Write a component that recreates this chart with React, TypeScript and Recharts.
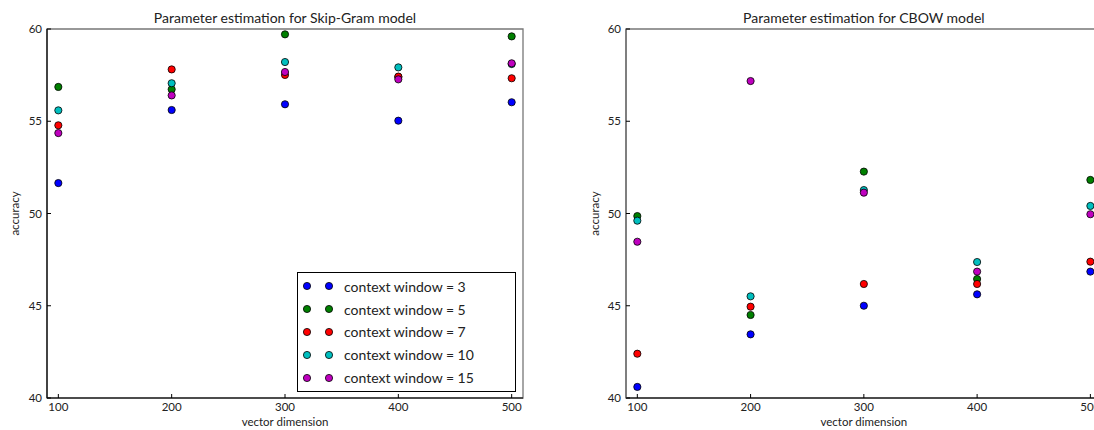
import React from 'react';
import { ScatterChart, Scatter, XAxis, YAxis, ReferenceArea, Legend } from 'recharts';

const dimensions = [100, 200, 300, 400, 500];
const xTicks = [100, 200, 300, 400, 500];
const yTicks = [40, 45, 50, 55, 60];
const windowLabels = [
  'context window = 3',
  'context window = 5',
  'context window = 7',
  'context window = 10',
  'context window = 15',
];
const seriesColors = ['#0000ff', '#008000', '#ff0000', '#00bfbf', '#bf00bf'];

// Skip-Gram accuracies (per context window, over vector dimensions)
const skipGram3 = [51.65, 55.61, 55.92, 55.03, 56.03];
const skipGram5 = [56.86, 56.73, 59.71, 57.4, 59.6];
const skipGram7 = [54.78, 57.81, 57.51, 57.42, 57.33];
const skipGram10 = [55.59, 57.06, 58.21, 57.92, 58.1];
const skipGram15 = [54.36, 56.4, 57.67, 57.27, 58.14];

// CBOW accuracies
const cbow3 = [40.6, 43.45, 45.0, 45.62, 46.85];
const cbow5 = [49.86, 44.5, 52.27, 46.45, 51.82];
const cbow7 = [42.4, 44.95, 46.18, 46.18, 47.39];
const cbow10 = [49.61, 45.51, 51.27, 47.37, 50.41];
const cbow15 = [48.47, 57.18, 51.13, 46.85, 49.96];

const skipGramSeries = [skipGram3, skipGram5, skipGram7, skipGram10, skipGram15];
const cbowSeries = [cbow3, cbow5, cbow7, cbow10, cbow15];

const FONT = 'Lato, "DejaVu Sans", sans-serif';
const TICK_MARGIN_X = 4;
const TICK_MARGIN_Y = 5;

const toPoints = (values: number[]) => dimensions.map((d, i) => ({ x: d, y: values[i] }));

const XTick = (props: any) => {
  const { x, y, payload } = props;
  const axisY = y - TICK_MARGIN_X;
  return (
    <g>
      <line x1={x} x2={x} y1={axisY} y2={axisY - 4} stroke="#000" strokeWidth={1} />
      <text x={x} y={y} dy="0.75em" textAnchor="middle" fontSize={11.5} fill="#222" fontFamily={FONT}>
        {payload.value}
      </text>
    </g>
  );
};

const YTick = (props: any) => {
  const { x, y, payload } = props;
  const axisX = x + TICK_MARGIN_Y;
  return (
    <g>
      <line x1={axisX} x2={axisX + 4} y1={y} y2={y} stroke="#000" strokeWidth={1} />
      <text x={x} y={y} dy="0.36em" textAnchor="end" fontSize={11.5} fill="#222" fontFamily={FONT}>
        {payload.value}
      </text>
    </g>
  );
};

const Dot = (props: any) => {
  const { cx, cy, fill } = props;
  if (cx == null || cy == null) return null;
  return <circle cx={cx} cy={cy} r={3.6} fill={fill} stroke="#000" strokeWidth={0.8} />;
};

const LegendBox = (props: any) => {
  const payload = [...(props.payload || [])].sort(
    (a: any, b: any) => windowLabels.indexOf(a.value) - windowLabels.indexOf(b.value)
  );
  return (
    <div
      style={{
        width: 217,
        height: 116,
        border: '1px solid #000',
        background: '#fff',
        boxSizing: 'content-box',
        paddingTop: 2,
      }}
    >
      {payload.map((entry: any, i: number) => (
        <div
          key={i}
          style={{
            height: 22.8,
            display: 'flex',
            alignItems: 'center',
            fontFamily: FONT,
            fontSize: 14,
            color: '#222',
          }}
        >
          <svg width={43} height={12} style={{ marginLeft: 3 }}>
            <circle cx={6} cy={6} r={3.6} fill={entry.color} stroke="#000" strokeWidth={0.8} />
            <circle cx={28} cy={6} r={3.6} fill={entry.color} stroke="#000" strokeWidth={0.8} />
          </svg>
          <span>{entry.value}</span>
        </div>
      ))}
    </div>
  );
};

type PanelProps = {
  title: string;
  series: number[][];
  width: number;
  yAxisWidth: number;
  marginRight: number;
  yLabelOffset: number;
  leftStroke: string;
  showLegend: boolean;
};

const Panel = ({ title, series, width, yAxisWidth, marginRight, yLabelOffset, leftStroke, showLegend }: PanelProps) => (
  <ScatterChart width={width} height={430} margin={{ top: 29, right: marginRight, bottom: 0, left: 0 }}>
    <ReferenceArea
      x1={90}
      x2={510}
      y1={40}
      y2={60}
      fill="none"
      fillOpacity={0}
      stroke="#777"
      strokeWidth={1.3}
      label={{ value: title, position: 'top', offset: 6, fontSize: 14, fill: '#222', fontFamily: FONT }}
    />
    <XAxis
      type="number"
      dataKey="x"
      domain={[90, 510]}
      ticks={xTicks}
      allowDataOverflow
      height={32}
      tickSize={0}
      tickMargin={TICK_MARGIN_X}
      tick={<XTick />}
      tickLine={false}
      axisLine={{ stroke: '#000', strokeWidth: 1.2 }}
      label={{ value: 'vector dimension', position: 'insideBottom', offset: 4, fontSize: 11.5, fill: '#222', fontFamily: FONT }}
    />
    <YAxis
      type="number"
      dataKey="y"
      domain={[40, 60]}
      ticks={yTicks}
      allowDataOverflow
      width={yAxisWidth}
      tickSize={0}
      tickMargin={TICK_MARGIN_Y}
      tick={<YTick />}
      tickLine={false}
      axisLine={{ stroke: leftStroke, strokeWidth: 1.2 }}
      label={{
        value: 'accuracy',
        angle: -90,
        position: 'insideLeft',
        offset: yLabelOffset,
        fontSize: 11.5,
        fill: '#222',
        fontFamily: FONT,
        style: { textAnchor: 'middle' },
      }}
    />
    {series.map((values, i) => (
      <Scatter
        key={windowLabels[i]}
        name={windowLabels[i]}
        data={toPoints(values)}
        fill={seriesColors[i]}
        shape={<Dot />}
        isAnimationActive={false}
      />
    ))}
    {showLegend && (
      <Legend
        layout="vertical"
        align="center"
        verticalAlign="middle"
        content={<LegendBox />}
        wrapperStyle={{ left: 297, top: 272, width: 219, height: 118 }}
      />
    )}
  </ScatterChart>
);

export default function App() {
  return (
    <div style={{ position: 'absolute', left: 0, top: 0, width: 1094, height: 430, background: '#fff', overflow: 'hidden' }}>
      <div style={{ position: 'absolute', left: 0, top: 0, width: 547, height: 430 }}>
        <Panel
          title="Parameter estimation for Skip-Gram model"
          series={skipGramSeries}
          width={547}
          yAxisWidth={47}
          marginRight={24}
          yLabelOffset={15}
          leftStroke="#000"
          showLegend={true}
        />
      </div>
      <div style={{ position: 'absolute', left: 547, top: 0, width: 547, height: 430, overflow: 'hidden' }}>
        <Panel
          title="Parameter estimation for CBOW model"
          series={cbowSeries}
          width={600}
          yAxisWidth={79}
          marginRight={45.3}
          yLabelOffset={48}
          leftStroke="#666"
          showLegend={false}
        />
      </div>
    </div>
  );
}
